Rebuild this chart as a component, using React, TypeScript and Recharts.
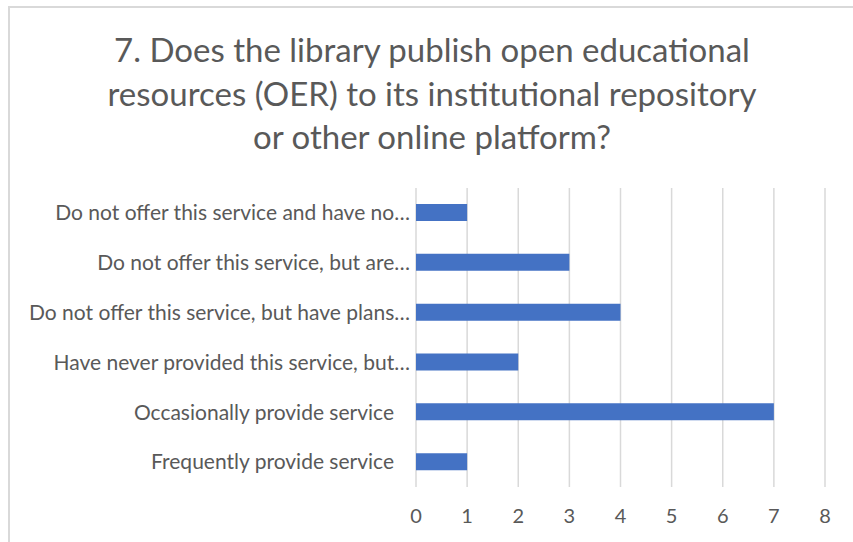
import React from 'react';
import { BarChart, Bar, XAxis, YAxis, CartesianGrid } from 'recharts';

const categories = [
  'Do not offer this service and have no…',
  'Do not offer this service, but are…',
  'Do not offer this service, but have plans…',
  'Have never provided this service, but…',
  'Occasionally provide service',
  'Frequently provide service',
];
const counts = [1, 3, 4, 2, 7, 1];
const xTicks = [0, 1, 2, 3, 4, 5, 6, 7, 8];
const titleLines = [
  '7. Does the library publish open educational',
  'resources (OER) to its institutional repository',
  'or other online platform?',
];

const data = categories.map((c, i) => ({ name: c, value: counts[i] }));

const FONT = 'Lato, sans-serif';
const GRAY = '#595959';

const YTick = (props: any) => {
  const { x, y, payload } = props;
  const s: string = payload.value;
  const shift = s.endsWith('…') ? 0 : -16;
  return (
    <text x={x + 2 + shift} y={y} dy="0.35em" textAnchor="end" fill={GRAY} fontSize={21} fontFamily={FONT}>
      {s}
    </text>
  );
};

export default function App() {
  return (
    <div style={{ position: 'fixed', left: 0, top: 0, width: 853, height: 542, overflow: 'hidden', background: '#fff' }}>
      <div style={{ position: 'absolute', left: 8, top: 6, width: 900, height: 600, borderLeft: '2px solid #d9d9d9', borderTop: '2px solid #d9d9d9' }} />
      <div style={{ position: 'absolute', left: 0, top: 28, width: 864, textAlign: 'center', fontFamily: FONT, fontSize: 33, color: GRAY, lineHeight: '43.5px' }}>
        {titleLines.map((l, i) => (
          <div key={i}>{l}</div>
        ))}
      </div>
      <div style={{ position: 'absolute', left: 0, top: 0 }}>
        <BarChart width={853} height={542} data={data} layout="vertical" margin={{ top: 188, right: 28, bottom: 0, left: 0 }}>
          <CartesianGrid horizontal={false} vertical={true} stroke="#d9d9d9" strokeWidth={1.5} />
          <XAxis
            type="number"
            domain={[0, 8]}
            ticks={xTicks}
            axisLine={false}
            tickLine={false}
            tickSize={0}
            tickMargin={22}
            height={55}
            tick={{ fill: GRAY, fontSize: 20, fontFamily: FONT }}
            interval={0}
          />
          <YAxis
            type="category"
            dataKey="name"
            width={416}
            axisLine={false}
            tickLine={false}
            tick={<YTick />}
            interval={0}
          />
          <Bar dataKey="value" fill="#4472C4" barSize={17} isAnimationActive={false} />
        </BarChart>
      </div>
    </div>
  );
}
